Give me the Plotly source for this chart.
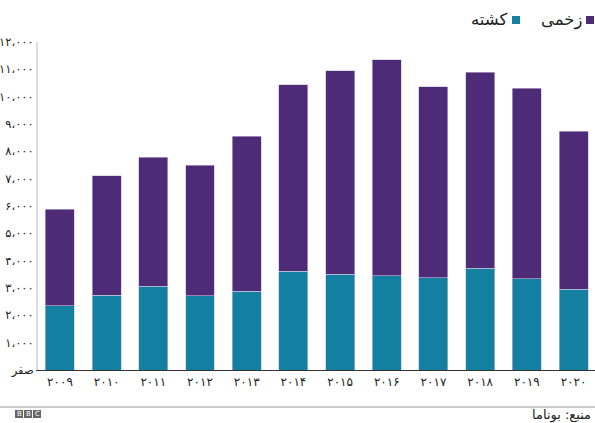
import plotly.graph_objects as go

years = ["۲۰۰۹", "۲۰۱۰", "۲۰۱۱", "۲۰۱۲", "۲۰۱۳", "۲۰۱۴", "۲۰۱۵", "۲۰۱۶", "۲۰۱۷", "۲۰۱۸", "۲۰۱۹", "۲۰۲۰"]
killed = [2350, 2730, 3070, 2720, 2890, 3620, 3500, 3450, 3370, 3720, 3330, 2960]
totals = [5890, 7100, 7780, 7500, 8550, 10440, 10940, 11350, 10370, 10890, 10310, 8730]
injured = [t - k for t, k in zip(totals, killed)]

tick_vals = [0, 1000, 2000, 3000, 4000, 5000, 6000, 7000, 8000, 9000, 10000, 11000, 12000]
tick_text = ["صفر", "۱،۰۰۰", "۲،۰۰۰", "۳،۰۰۰", "۴،۰۰۰", "۵،۰۰۰", "۶،۰۰۰", "۷،۰۰۰",
             "۸،۰۰۰", "۹،۰۰۰", "۱۰،۰۰۰", "۱۱،۰۰۰", "۱۲،۰۰۰"]

name_killed = "کشته"
name_injured = "زخمی"
source = "منبع: بوناما"

TEAL = "#1380a1"
PURPLE = "#4d2b77"
FONT = "DejaVu Sans"

fig = go.Figure()
fig.add_bar(x=list(range(len(years))), y=killed, name=name_killed,
            marker=dict(color=TEAL, line=dict(color="#c9c3dc", width=0.6)), width=0.62)
fig.add_bar(x=list(range(len(years))), y=injured, name=name_injured,
            marker=dict(color=PURPLE, line=dict(color="#c9c3dc", width=0.6)), width=0.62)

fig.update_layout(
    barmode="stack",
    width=595, height=423,
    margin=dict(l=38, r=0, t=42, b=53),
    paper_bgcolor="white", plot_bgcolor="white",
    showlegend=False,
    font=dict(family=FONT, color="#222"),
    xaxis=dict(
        tickmode="array", tickvals=list(range(len(years))), ticktext=years,
        range=[-0.47, 11.46], showgrid=False, zeroline=False,
        showline=True, linecolor="#333", linewidth=1.2,
        ticks="", tickfont=dict(size=12, family=FONT, color="#222"),
    ),
    yaxis=dict(
        range=[0, 12000], tickmode="array", tickvals=tick_vals, ticktext=tick_text,
        showgrid=False, zeroline=False, showline=True, linecolor="#dddddd", linewidth=2,
        ticks="", tickfont=dict(size=11.5, family=FONT, color="#222"),
    ),
)

# legend (right-to-left)
fig.add_shape(type="rect", xref="paper", yref="paper", x0=(586 - 38) / 557, x1=(594 - 38) / 557,
              y0=(423 - 53 - 24) / 328 , y1=(423 - 53 - 16) / 328, fillcolor=PURPLE, line=dict(width=0))
fig.add_annotation(text=name_injured, xref="paper", yref="paper", x=(584 - 38) / 557,
                   y=(423 - 53 - 20) / 328, xanchor="right", yanchor="middle", showarrow=False,
                   font=dict(size=16.5, family=FONT, color="#222"))
fig.add_shape(type="rect", xref="paper", yref="paper", x0=(512 - 38) / 557, x1=(520 - 38) / 557,
              y0=(423 - 53 - 24) / 328, y1=(423 - 53 - 16) / 328, fillcolor=TEAL, line=dict(width=0))
fig.add_annotation(text=name_killed, xref="paper", yref="paper", x=(510 - 38) / 557,
                   y=(423 - 53 - 20) / 328, xanchor="right", yanchor="middle", showarrow=False,
                   font=dict(size=16.5, family=FONT, color="#222"))

# footer line
fig.add_shape(type="line", xref="paper", yref="paper", x0=-38 / 557, x1=1.0,
              y0=-(407 - 370) / 328, y1=-(407 - 370) / 328, line=dict(color="#999", width=1))

# BBC blocks
for i, letter in enumerate(["B", "B", "C"]):
    x0 = 15 + i * 9
    fig.add_shape(type="rect", xref="paper", yref="paper",
                  x0=(x0 - 38) / 557, x1=(x0 + 8 - 38) / 557,
                  y0=-(418 - 370) / 328, y1=-(410 - 370) / 328,
                  fillcolor="#666", line=dict(width=0))
    fig.add_annotation(text=letter, xref="paper", yref="paper", x=(x0 + 4 - 38) / 557,
                       y=-(414 - 370) / 328, showarrow=False, xanchor="center", yanchor="middle",
                       font=dict(size=7, family="DejaVu Sans", color="white"))

fig.add_annotation(text=source, xref="paper", yref="paper", x=(593 - 38) / 557,
                   y=-(415 - 370) / 328, xanchor="right", yanchor="middle", showarrow=False,
                   font=dict(size=13, family=FONT, color="#222"))

fig.write_html("out.html")
